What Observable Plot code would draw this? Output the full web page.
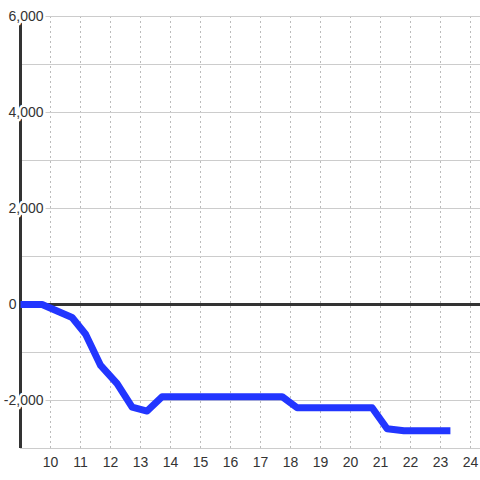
<!DOCTYPE html>
<html><head><meta charset="utf-8">
<script src="https://cdn.jsdelivr.net/npm/d3@7"></script>
<script src="https://cdn.jsdelivr.net/npm/@observablehq/plot@0.6"></script>
<style>body{margin:0;background:#fff}</style>
</head><body><div id="chart"></div>
<script>
const times  = [9.0, 9.72, 10.72, 11.17, 11.67, 12.22, 12.72, 13.22, 13.72, 17.72, 18.22, 20.72, 21.22, 21.78, 23.33];
const values = [0, 0, -270, -620, -1270, -1650, -2140, -2220, -1920, -1920, -2150, -2150, -2590, -2630, -2630];
const xTicks = [10, 11, 12, 13, 14, 15, 16, 17, 18, 19, 20, 21, 22, 23, 24];
const yGrid = [-3000, -2000, -1000, 0, 1000, 2000, 3000, 4000, 5000, 6000];
const yLabels = [-2000, 2000, 4000, 6000];
const zeroLabel = [0];
const data = times.map((t, i) => ({t, v: values[i]}));
const fmt = d => d.toLocaleString("en-US");
const chart = Plot.plot({
  width: 480, height: 480,
  marginLeft: 20, marginRight: 0, marginTop: 16, marginBottom: 32,
  x: {domain: [9, 24.333], axis: null},
  y: {domain: [-3000, 6000], axis: null},
  style: {fontFamily: "'Liberation Sans', Arial, sans-serif", fontSize: "14px", background: "#fff"},
  marks: [
    Plot.ruleX(xTicks, {x: d => d, y1: -3000, y2: 6000, stroke: "#bbb", strokeDasharray: "2,3"}),
    Plot.ruleY(yGrid, {y: d => d, x1: 9, x2: 24.333, stroke: "#ccc"}),
    Plot.ruleY([0], {y: d => d, x1: 9, x2: 24.333, stroke: "#333", strokeWidth: 3}),
    Plot.ruleX([9], {x: d => d, y1: -3000, y2: 6000, stroke: "#333", strokeWidth: 3}),
    Plot.line(data, {x: "t", y: "v", stroke: "#2236ff", strokeWidth: 7, strokeLinejoin: "round", strokeLinecap: "butt", clip: true}),
    Plot.text(yLabels, {x: 9, y: d => d, text: fmt, textAnchor: "end", dx: 23, fill: "#333", stroke: "white", strokeWidth: 5, fontSize: 14}),
    Plot.text(zeroLabel, {x: 9, y: d => d, text: fmt, textAnchor: "end", dx: -4, fill: "#333", stroke: "white", strokeWidth: 3, fontSize: 14}),
    Plot.text(xTicks, {x: d => d, y: -3000, dy: 14, text: d => String(d), fill: "#333", fontSize: 14})
  ]
});
document.getElementById("chart").appendChild(chart);
</script>
</body></html>
